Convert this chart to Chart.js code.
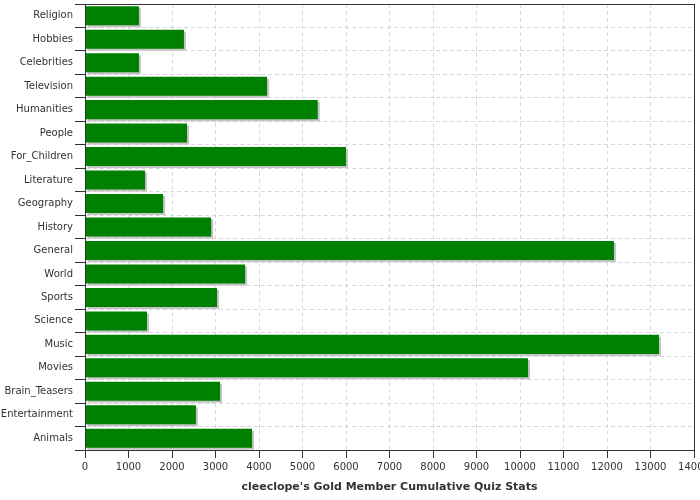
<!DOCTYPE html>
<html>
<head>
<meta charset="utf-8">
<script src="https://cdn.jsdelivr.net/npm/chart.js@4/dist/chart.umd.min.js"></script>
<style>
  html, body { margin: 0; padding: 0; background: #fff; overflow: hidden; }
  #wrap { width: 700px; height: 500px; }
</style>
</head>
<body>
<div id="wrap"><canvas id="myChart"></canvas></div>
<script>
// kategorier, uppifrån och ned
const categories = ["Religion", "Hobbies", "Celebrities", "Television", "Humanities", "People",
  "For_Children", "Literature", "Geography", "History", "General", "World", "Sports",
  "Science", "Music", "Movies", "Brain_Teasers", "Entertainment", "Animals"];
// poäng per kategori
const scores = [1240, 2275, 1240, 4185, 5350, 2345, 6000, 1380, 1795, 2900,
  12160, 3680, 3035, 1425, 13195, 10185, 3105, 2550, 3840];
const xTitle = "cleeclope's Gold Member Cumulative Quiz Stats";

const textColor = "#333333";
const gridColor = "#d3d9dc";

// skugga bakom staplarna
const barShadow = {
  id: "barShadow",
  beforeDatasetsDraw(chart) {
    const c = chart.ctx;
    c.save();
    c.shadowColor = "#c4c4c4";
    c.shadowOffsetX = 2;
    c.shadowOffsetY = 2;
    c.shadowBlur = 0;
  },
  afterDatasetsDraw(chart) {
    chart.ctx.restore();
  }
};

// ram runt ritytan
const frame = {
  id: "frame",
  afterDraw(chart) {
    const { ctx, chartArea: a } = chart;
    ctx.save();
    ctx.strokeStyle = "#333333";
    ctx.lineWidth = 1;
    ctx.strokeRect(Math.round(a.left) + 0.5, Math.round(a.top) + 0.5,
      Math.round(a.right - a.left), Math.round(a.bottom - a.top));
    ctx.restore();
  }
};

const ctx = document.getElementById("myChart").getContext("2d");
Chart.defaults.font.family = "'DejaVu Sans', sans-serif";
Chart.defaults.font.size = 10;
Chart.defaults.color = textColor;

const myChart = new Chart(ctx, {
  type: "bar",
  data: {
    labels: categories,
    datasets: [{
      data: scores,
      backgroundColor: "#008000",
      borderWidth: 0,
      categoryPercentage: 0.81,
      barPercentage: 1.0
    }]
  },
  options: {
    indexAxis: "y",
    responsive: true,
    maintainAspectRatio: false,
    animation: false,
    layout: { padding: { top: 4, right: 6, left: 0, bottom: 0 } },
    plugins: {
      legend: { display: false },
      tooltip: { enabled: false }
    },
    scales: {
      x: {
        min: 0,
        max: 14000,
        ticks: {
          stepSize: 1000, padding: 3, color: textColor, maxRotation: 0,
          callback: (v) => String(v) // inga tusentalsavgränsare
        },
        grid: { color: gridColor, tickColor: "#333333", tickLength: 8, tickBorderDash: [] },
        border: { color: "#333333", dash: [4, 3] },
        title: {
          display: true,
          text: xTitle,
          color: textColor,
          font: { weight: "bold", size: 11 },
          padding: { top: 4, bottom: 6 }
        },
        afterFit(s) { s.paddingRight = 0; s.paddingLeft = 0; s.height = 50; }
      },
      y: {
        ticks: { padding: 2, color: textColor, autoSkip: false },
        grid: { color: gridColor, tickColor: "#333333", tickLength: 10, tickBorderDash: [], offset: true },
        border: { color: "#333333", dash: [4, 3] },
        afterFit(s) { s.width = 85; s.paddingTop = 0; s.paddingBottom = 0; }
      }
    }
  },
  plugins: [barShadow, frame]
});
</script>
</body>
</html>
